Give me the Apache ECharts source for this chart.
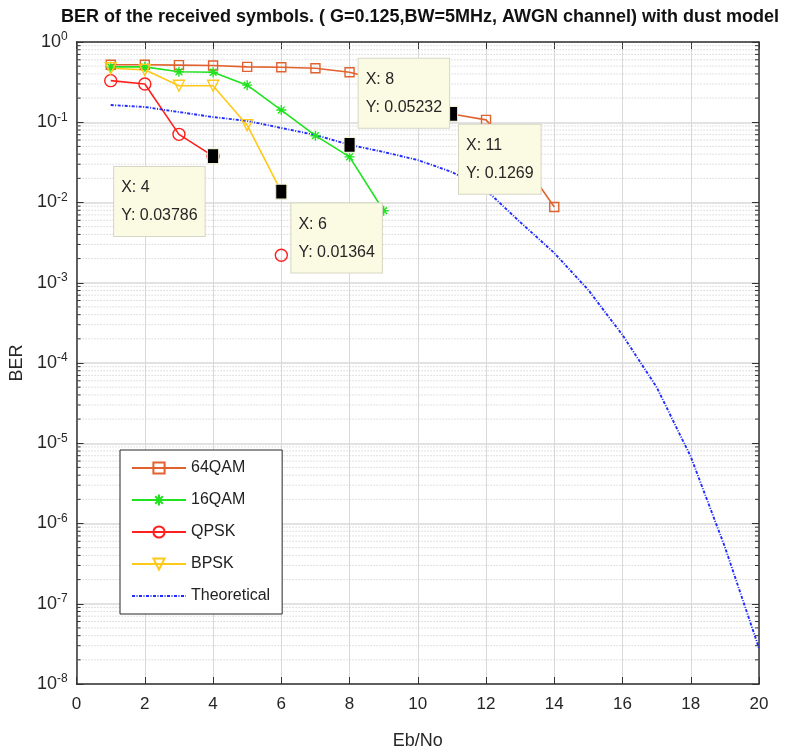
<!DOCTYPE html>
<html>
<head>
<meta charset="utf-8">
<script src="https://cdn.jsdelivr.net/npm/echarts@6/dist/echarts.min.js"></script>
<style>
  html, body { margin: 0; padding: 0; background: #ffffff; }
  #chart { width: 787px; height: 756px; }
</style>
</head>
<body>
<div id="chart"></div>
<script>
// Eb/No points (dB) and simulated bit error rates per modulation
const ebNo = [1, 2, 3, 4, 5, 6, 7, 8, 9, 10, 11, 12, 13, 14, 15, 16, 17, 18, 19, 20];
const ber64QAM = [0.52, 0.52, 0.515, 0.51, 0.49, 0.484, 0.47, 0.42, 0.33, 0.21, 0.1269, 0.107, 0.036, 0.0088];
const ber16QAM = [0.49, 0.49, 0.426, 0.42, 0.29, 0.142, 0.068, 0.037, 0.0079];
const berQPSK = [0.33, 0.30, 0.0707, 0.03786, null, 0.0022];   // zero errors at 5 dB (not drawable on log scale)
const berBPSK = [0.47, 0.45, 0.285, 0.285, 0.092, 0.01364];
const berTheory = [0.164, 0.155, 0.134, 0.116, 0.104, 0.0848, 0.0694, 0.05232, 0.0426, 0.0338,
                   0.024, 0.0143, 0.0057, 0.00235, 0.00081, 0.000223, 0.00005, 0.0000068, 0.00000051, 0.000000028];

// axis ticks
const xTicks = [0, 2, 4, 6, 8, 10, 12, 14, 16, 18, 20];
const yDecades = [-8, -7, -6, -5, -4, -3, -2, -1, 0];

// data tips: which curve and which Eb/No they point at
const dataTips = [
  { series: 'QPSK', x: 4 },
  { series: 'BPSK', x: 6 },
  { series: 'Theoretical', x: 8 },
  { series: '64QAM', x: 11 }
];

const seriesValues = {
  '64QAM': ber64QAM,
  '16QAM': ber16QAM,
  'QPSK': berQPSK,
  'BPSK': berBPSK,
  'Theoretical': berTheory
};

// box placement of each data tip relative to its marker
const tipBoxOffset = { 4: [-93, 19], 6: [16, 20], 8: [15, -78], 11: [13, 19] };

function pairs(values) {
  return values.map((v, i) => [ebNo[i], v]);
}

// log-axis minor grid values (2..9 per decade)
const minorValues = [];
yDecades.slice(0, -1).forEach(e => {
  for (let m = 2; m <= 9; m++) minorValues.push([xTicks[0], m * Math.pow(10, e)]);
});

const xMin = xTicks[0], xMax = xTicks[xTicks.length - 1];
const yMin = Math.pow(10, yDecades[0]), yMax = Math.pow(10, yDecades[yDecades.length - 1]);

const FONT = '"Liberation Sans", Arial, Helvetica, sans-serif';
const AXIS_COLOR = '#333333';
const GRID_COLOR = '#d9d9d9';
const clear = 'rgba(255,255,255,0)';

const chart = echarts.init(document.getElementById('chart'), null, { renderer: 'canvas' });

function markerSeries(name, values, color, symbol, size) {
  return {
    name: name,
    type: 'line',
    data: pairs(values),
    xAxisIndex: 0,
    yAxisIndex: 0,
    symbol: symbol,
    symbolSize: size,
    showSymbol: true,
    connectNulls: false,
    lineStyle: { color: color, width: 1.6 },
    itemStyle: { color: clear, borderColor: color, borderWidth: 1.4 },
    emphasis: { disabled: true },
    z: 3
  };
}

const option = {
  animation: false,
  backgroundColor: '#ffffff',
  textStyle: { fontFamily: FONT },
  title: {
    text: 'BER of the received symbols. ( G=0.125,BW=5MHz, AWGN channel) with dust model',
    left: 415,
    textAlign: 'center',
    top: 3,
    textStyle: { fontFamily: FONT, fontSize: 18, fontWeight: 'bold', color: '#111111' }
  },
  grid: { left: 73, top: 42, width: 686, height: 642, containLabel: false },
  legend: {
    orient: 'vertical',
    left: 120,
    top: 450,
    padding: [10, 12, 10, 11],
    itemGap: 16,
    itemWidth: 54,
    itemHeight: 14,
    backgroundColor: '#ffffff',
    borderColor: '#262626',
    borderWidth: 1,
    data: ['64QAM', '16QAM', 'QPSK', 'BPSK',
           { name: 'Theoretical', itemStyle: { opacity: 0 } }],
    textStyle: { fontFamily: FONT, fontSize: 16, color: '#222222' }
  },
  xAxis: [
    {
      type: 'value', position: 'bottom', min: xMin, max: xMax, interval: 2,
      name: 'Eb/No', nameLocation: 'middle', nameGap: 48,
      nameTextStyle: { fontFamily: FONT, fontSize: 18, color: '#262626' },
      axisLine: { show: true, onZero: false, lineStyle: { color: AXIS_COLOR, width: 1.5 } },
      axisTick: { show: true, inside: true, length: 7, lineStyle: { color: AXIS_COLOR } },
      axisLabel: { fontFamily: FONT, fontSize: 17, color: '#262626', margin: 12 },
      splitLine: { show: true, lineStyle: { color: GRID_COLOR, width: 1 } }
    },
    {
      type: 'value', position: 'top', min: xMin, max: xMax, interval: 2,
      axisLine: { show: true, onZero: false, lineStyle: { color: AXIS_COLOR, width: 1.5 } },
      axisTick: { show: true, inside: true, length: 7, lineStyle: { color: AXIS_COLOR } },
      axisLabel: { show: false },
      splitLine: { show: false }
    }
  ],
  yAxis: [
    {
      type: 'log', logBase: 10, min: yMin, max: yMax, splitNumber: 8, position: 'left',
      name: 'BER', nameLocation: 'middle', nameGap: 39, nameRotate: 90,
      nameTextStyle: { fontFamily: FONT, fontSize: 18, color: '#262626' },
      axisLine: { show: true, onZero: false, lineStyle: { color: AXIS_COLOR, width: 1.5 } },
      axisTick: { show: true, inside: true, length: 7, lineStyle: { color: AXIS_COLOR } },
      axisLabel: {
        margin: 9,
        formatter: v => '{b|10}{s|' + Math.round(Math.log10(v)) + '}',
        rich: {
          b: { fontFamily: FONT, fontSize: 18, color: '#262626' },
          s: { fontFamily: FONT, fontSize: 12, color: '#262626', padding: [0, 0, 10, 0] }
        }
      },
      splitLine: { show: true, lineStyle: { color: GRID_COLOR, width: 1.5 } }
    },
    {
      type: 'log', logBase: 10, min: yMin, max: yMax, splitNumber: 8, position: 'right',
      axisLine: { show: true, onZero: false, lineStyle: { color: AXIS_COLOR, width: 1.5 } },
      axisTick: { show: true, inside: true, length: 7, lineStyle: { color: AXIS_COLOR } },
      axisLabel: { show: false },
      splitLine: { show: false }
    }
  ],
  series: [
    {
      // minor grid lines and minor ticks of the log axis
      name: 'minorGrid',
      type: 'custom',
      xAxisIndex: 0,
      yAxisIndex: 0,
      silent: true,
      z: 1,
      data: minorValues,
      renderItem: function (params, api) {
        const v = api.value(1);
        const a = api.coord([xMin, v]);
        const b = api.coord([xMax, v]);
        return {
          type: 'group',
          children: [
            { type: 'line', shape: { x1: a[0], y1: a[1], x2: b[0], y2: b[1] },
              style: { stroke: '#c4c4c4', lineWidth: 1, lineDash: [1, 2] } },
            { type: 'line', shape: { x1: a[0], y1: a[1], x2: a[0] + 4, y2: a[1] },
              style: { stroke: AXIS_COLOR, lineWidth: 1 } },
            { type: 'line', shape: { x1: b[0], y1: b[1], x2: b[0] - 4, y2: b[1] },
              style: { stroke: AXIS_COLOR, lineWidth: 1 } }
          ]
        };
      }
    },
    markerSeries('64QAM', ber64QAM, '#e0622e', 'rect', 9),
    markerSeries('16QAM', ber16QAM, '#1fe31f', 'path://M0,5L10,5M5,0L5,10M1.6,1.6L8.4,8.4M1.6,8.4L8.4,1.6', 10),
    markerSeries('QPSK', berQPSK, '#ff1f1f', 'circle', 12),
    markerSeries('BPSK', berBPSK, '#ffc91a', 'path://M0,0L10,0L5,9Z', 11),
    {
      name: 'Theoretical',
      type: 'line',
      data: pairs(berTheory),
      symbol: 'none',
      showSymbol: false,
      lineStyle: { color: '#1f2bff', width: 1.9, type: [3, 1.5, 1, 1.5] },
      itemStyle: { color: '#1f2bff' },
      emphasis: { disabled: true },
      z: 3
    },
    {
      name: 'dataTips',
      type: 'scatter',
      symbol: 'rect',
      symbolSize: [11, 15],
      z: 10,
      zlevel: 1,
      itemStyle: { color: '#000000', borderColor: '#f2f2d8', borderWidth: 1, opacity: 1 },
      emphasis: { disabled: true },
      data: dataTips.map(t => {
        const y = seriesValues[t.series][t.x - 1];
        const off = tipBoxOffset[t.x];
        return {
          value: [t.x, y],
          label: {
            show: true,
            position: off,
            align: 'left',
            verticalAlign: 'top',
            formatter: 'X: ' + t.x + '\nY: ' + y,
            fontFamily: FONT,
            fontSize: 16,
            lineHeight: 28,
            color: '#262626',
            opacity: 1,
            backgroundColor: '#fbfbe4',
            borderColor: '#d6d6c4',
            borderWidth: 1,
            padding: [7, 7, 6, 7]
          }
        };
      })
    }
  ]
};

chart.setOption(option);
</script>
</body>
</html>
